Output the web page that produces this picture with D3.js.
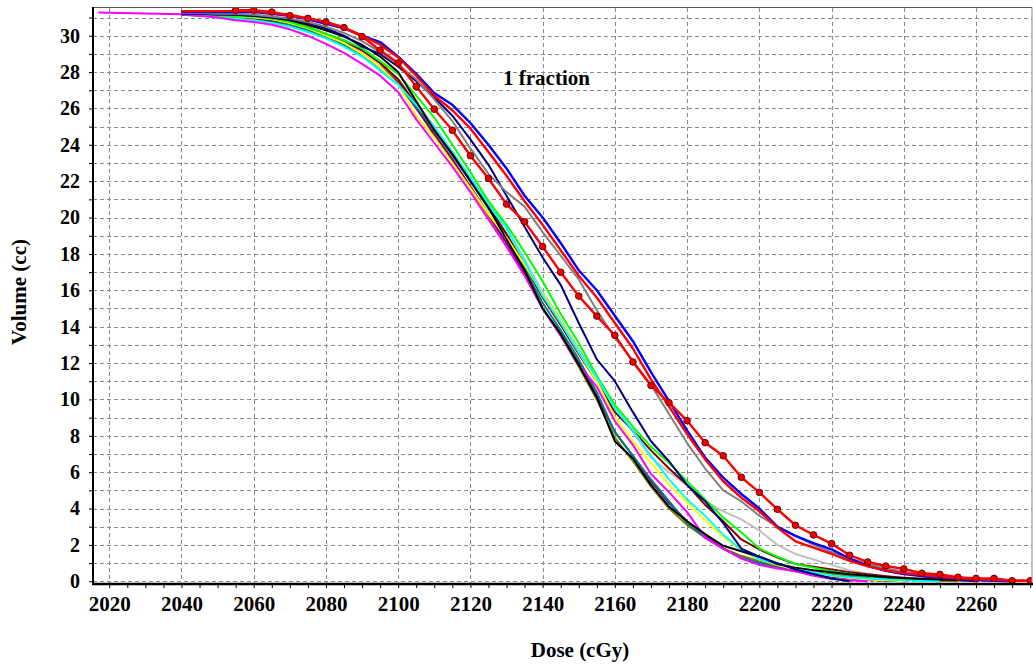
<!DOCTYPE html>
<html>
<head>
<meta charset="utf-8">
<script src="https://cdn.jsdelivr.net/npm/d3@7"></script>
<style>
  body { margin: 0; background: #fff; }
  svg text { font-family: "Liberation Serif", "Times New Roman", serif; font-weight: bold; fill: #000; }
</style>
</head>
<body>
<svg id="chart" width="1033" height="666"></svg>
<script>
// Dose grid (cGy) shared by every DVH curve
const doses = [2017, 2030, 2040, 2045, 2050, 2055, 2060, 2065, 2070, 2075,
               2080, 2085, 2090, 2095, 2100, 2105, 2110, 2115, 2120, 2125,
               2130, 2135, 2140, 2145, 2150, 2155, 2160, 2165, 2170, 2175,
               2180, 2185, 2190, 2195, 2200, 2205, 2210, 2215, 2220, 2225,
               2230, 2235, 2240, 2245, 2250, 2255, 2260, 2265, 2270, 2275];

// Cumulative volume (cc) receiving at least each dose, one array per plan
const volBlue = [null, null, 31.3, 31.3, 31.3, 31.3, 31.3, 31.2, 31.1, 30.9,
  30.65, 30.4, 30.0, 29.65, 28.85, 27.9, 26.85, 26.2, 25.2, 24.0,
  22.7, 21.2, 20.0, 18.6, 17.1, 16.0, 14.6, 13.2, 11.5, 9.9,
  8.3, 6.8, 5.7, 4.8, 4.0, 3.0, 2.5, 2.1, 1.75, 1.25,
  0.85, 0.58, 0.4, 0.28, 0.2, 0.12, 0.07, 0.03, 0];
const volRed = [null, null, 31.35, 31.35, 31.35, 31.35, 31.35, 31.25, 31.15, 30.95,
  30.75, 30.45, 30.0, 29.5, 28.8, 27.8, 26.7, 25.9, 24.9, 23.6,
  22.3, 20.9, 19.6, 18.2, 16.8, 15.6, 14.2, 12.8, 11.1, 9.6,
  8.1, 6.7, 5.5, 4.6, 3.85, 2.95, 2.2, 1.85, 1.5, 1.12,
  0.82, 0.6, 0.45, 0.35, 0.25, 0.18, 0.12, 0.08, 0.04, 0.02];
const volRedDots = [null, null, null, null, null, 31.4, 31.4, 31.3, 31.1, 30.95,
  30.75, 30.45, 29.95, 29.2, 28.5, 27.2, 25.96, 24.8, 23.4, 22.15,
  20.74, 19.77, 18.4, 16.99, 15.68, 14.58, 13.52, 12.06, 10.77, 9.82,
  8.83, 7.62, 6.9, 5.72, 4.89, 3.96, 3.08, 2.55, 2.07, 1.43,
  1.06, 0.84, 0.68, 0.44, 0.38, 0.22, 0.16, 0.16, 0.03, 0.03];
const volGray = [null, null, 31.25, 31.25, 31.2, 31.2, 31.15, 31.05, 30.95, 30.75,
  30.5, 30.15, 29.7, 29.1, 28.4, 27.6, 26.5, 25.3, 23.8, 22.4,
  21.4, 20.6, 19.2, 17.9, 16.6, 14.9, 13.4, 12.1, 10.8, 9.2,
  7.6, 6.2, 5.0, 4.4, 3.6, 3.0, 2.5, 2.0, 1.6, 1.25,
  0.95, 0.72, 0.52, 0.38, 0.28, 0.18, 0.12, 0.06, 0];
const volNavy = [null, null, 31.2, 31.2, 31.15, 31.15, 31.1, 31.0, 30.9, 30.7,
  30.4, 30.0, 29.4, 29.0, 28.3, 27.5, 26.6, 25.6, 24.3, 22.9,
  21.2, 19.5, 17.8, 16.3, 14.2, 12.2, 11.0, 9.3, 7.7, 6.6,
  5.3, 4.4, 3.2, 1.8, 1.35, 1.0, 0.65, 0.4, 0.15, 0];
const volSilver = [null, null, 31.2, 31.15, 31.1, 31.05, 31.0, 30.9, 30.7, 30.4,
  30.05, 29.7, 29.2, 28.5, 27.6, 26.3, 25.0, 23.6, 22.2, 20.8,
  19.4, 17.7, 15.9, 14.4, 12.8, 11.3, 9.6, 8.2, 6.8, 6.0,
  5.3, 4.4, 3.85, 3.4, 2.8, 2.0, 1.5, 1.2, 0.9, 0.6,
  0.42, 0.28, 0.18, 0.12, 0.08, 0.04, 0];
const volGreen = [null, null, 31.2, 31.15, 31.1, 31.05, 31.05, 30.95, 30.75, 30.45,
  30.1, 29.75, 29.3, 28.6, 27.9, 26.7, 25.5, 24.0, 22.5, 20.9,
  19.6, 18.1, 16.5, 14.7, 13.1, 11.3, 9.7, 8.5, 7.4, 6.5,
  5.5, 4.5, 3.5, 2.7, 1.8, 1.35, 0.95, 0.75, 0.55, 0.4,
  0.28, 0.18, 0.1, 0.04, 0];
const volYellow = [null, null, 31.2, 31.15, 31.1, 31.05, 31.0, 30.9, 30.7, 30.4,
  30.0, 29.6, 29.0, 28.3, 27.3, 25.6, 24.4, 23.0, 21.6, 20.2,
  18.9, 17.4, 15.8, 14.3, 12.6, 11.0, 9.0, 7.7, 6.5, 5.3,
  4.35, 3.35, 2.45, 1.7, 1.2, 0.9, 0.65, 0.45, 0.3, 0.18,
  0.1, 0.05, 0];
const volCyan = [null, null, 31.2, 31.1, 31.0, 30.95, 30.85, 30.7, 30.5, 30.2,
  29.85, 29.4, 28.85, 28.1, 27.3, 26.2, 25.0, 23.6, 22.2, 20.7,
  19.4, 17.6, 15.7, 14.2, 12.6, 11.2, 9.5, 8.3, 6.9, 5.6,
  4.5, 3.6, 2.55, 1.75, 1.2, 0.95, 0.7, 0.48, 0.32, 0.22,
  0.15, 0.1, 0.06, 0.03, 0];
const volTeal = [null, null, 31.2, 31.15, 31.05, 31.0, 30.9, 30.75, 30.6, 30.3,
  29.9, 29.5, 28.9, 28.1, 27.3, 26.1, 24.8, 23.4, 22.0, 20.5,
  19.0, 17.2, 15.3, 13.8, 12.2, 10.4, 8.2, 6.9, 5.6, 4.4,
  3.2, 2.4, 1.8, 1.3, 1.0, 0.75, 0.55, 0.42, 0.32, 0.24,
  0.18, 0.12, 0.08, 0.04, 0];
const volMagenta = [31.28, 31.22, 31.18, 31.1, 31.0, 30.85, 30.75, 30.6, 30.35, 30.0,
  29.55, 29.05, 28.45, 27.8, 26.9, 25.4, 24.1, 22.8, 21.4, 19.9,
  18.4, 16.8, 15.0, 13.5, 11.9, 10.7, 8.8, 7.5, 5.9, 4.9,
  3.8, 2.4, 1.8, 1.25, 0.9, 0.7, 0.55, 0.3, 0.12, 0.05,
  0];
const volBlack = [null, null, 31.25, 31.2, 31.2, 31.15, 31.1, 31.0, 30.85, 30.6,
  30.3, 29.95, 29.5, 28.85, 28.0, 26.4, 24.8, 23.5, 22.0, 20.55,
  18.8, 17.1, 15.0, 13.6, 11.9, 10.1, 7.7, 6.75, 5.3, 4.1,
  3.3, 2.6, 1.95, 1.65, 1.35, 0.95, 0.75, 0.6, 0.5, 0.38,
  0.3, 0.22, 0.16, 0.13, 0.1, 0.08, 0.07, 0.05, 0];
const volOlive = [null, null, 31.2, 31.15, 31.15, 31.1, 31.05, 30.95, 30.8, 30.5,
  30.1, 29.75, 29.2, 28.5, 27.5, 26.1, 24.5, 23.1, 21.6, 20.1,
  18.5, 16.9, 15.0, 13.5, 11.8, 10.0, 7.9, 6.6, 5.2, 4.0,
  3.1, 2.4, 1.8, 1.4, 1.1, 0.85, 0.65, 0.5, 0.4, 0.3,
  0.22, 0.15, 0.1, 0.06, 0.03, 0];
const volMaroon = [null, null, 31.15, 31.1, 31.05, 31.0, 30.95, 30.85, 30.7, 30.4,
  30.05, 29.7, 29.2, 28.5, 27.6, 26.2, 24.9, 23.5, 22.1, 20.6,
  19.1, 17.4, 15.6, 14.1, 12.5, 11.0, 9.3, 8.3, 7.2, 6.2,
  5.3, 4.2, 3.3, 2.3, 1.75, 1.3, 0.95, 0.8, 0.65, 0.5,
  0.38, 0.28, 0.2, 0.14, 0.1, 0.05, 0];
const volPurple = [null, null, 31.2, 31.15, 31.1, 31.05, 31.0, 30.9, 30.7, 30.4,
  30.0, 29.6, 29.0, 28.3, 27.4, 26.0, 24.6, 23.2, 21.7, 20.2,
  18.6, 16.9, 15.0, 13.6, 12.0, 10.2, 8.2, 6.9, 5.5, 4.3,
  3.3, 2.5, 1.8, 1.3, 1.0, 0.75, 0.55, 0.38, 0.25, 0.15,
  0.08, 0.03, 0];

// Axis ticks
const xTicks = [2020, 2040, 2060, 2080, 2100, 2120, 2140, 2160, 2180, 2200, 2220, 2240, 2260];
const yTicks = [0, 2, 4, 6, 8, 10, 12, 14, 16, 18, 20, 22, 24, 26, 28, 30];

// Drawing order: later curves sit on top
const series = [
  { values: volSilver,  color: "#c0c0c0" },
  { values: volOlive,   color: "#808000" },
  { values: volPurple,  color: "#800080" },
  { values: volTeal,    color: "#008080" },
  { values: volMaroon,  color: "#800000" },
  { values: volYellow,  color: "#ffff00" },
  { values: volGreen,   color: "#00ff00" },
  { values: volCyan,    color: "#00ffff" },
  { values: volMagenta, color: "#ff00ff" },
  { values: volBlack,   color: "#000000" },
  { values: volNavy,    color: "#000080" },
  { values: volGray,    color: "#808080" },
  { values: volBlue,    color: "#0000ff" },
  { values: volRed,     color: "#ff0000" },
  { values: volRedDots, color: "#ff0000", dots: true }
];

const svg = d3.select("#chart");
const plotLeft = 93, plotRight = 1032, plotTop = 7.5, plotBottom = 584;
const x = d3.scaleLinear().domain([2015.5, 2275.5]).range([plotLeft, plotRight]);
const y = d3.scaleLinear().domain([-0.15, 31.55]).range([plotBottom, plotTop]);

svg.append("rect").attr("width", 1033).attr("height", 666).attr("fill", "#fff");

// dashed grid
const grid = svg.append("g").attr("stroke", "#8a8a8a").attr("stroke-width", 1)
  .attr("stroke-dasharray", "4,3").attr("shape-rendering", "crispEdges");
grid.selectAll("line.h").data(d3.range(0, 32)).join("line").attr("class", "h")
  .attr("x1", plotLeft).attr("x2", plotRight)
  .attr("y1", d => Math.round(y(d)) + 0.5).attr("y2", d => Math.round(y(d)) + 0.5);
grid.selectAll("line.v").data(xTicks).join("line").attr("class", "v")
  .attr("y1", plotTop).attr("y2", plotBottom)
  .attr("x1", d => Math.round(x(d)) + 0.5).attr("x2", d => Math.round(x(d)) + 0.5);

// curves
svg.append("clipPath").attr("id", "plotClip").append("rect")
  .attr("x", plotLeft).attr("y", plotTop)
  .attr("width", plotRight - plotLeft).attr("height", plotBottom - plotTop);
const plot = svg.append("g").attr("clip-path", "url(#plotClip)");
const line = d3.line()
  .defined(d => d.v != null)
  .x(d => x(d.d)).y(d => y(d.v));

series.forEach(s => {
  const pts = doses.map((d, i) => ({ d: d, v: s.values[i] }));
  plot.append("path").datum(pts)
    .attr("fill", "none").attr("stroke", s.color)
    .attr("stroke-width", s.color === "#ff0000" || s.color === "#0000ff" ? 2.4 : 2)
    .attr("stroke-linejoin", "round")
    .attr("d", line);
  if (s.dots) {
    plot.selectAll(null).data(pts.filter(p => p.v != null)).join("circle")
      .attr("cx", p => x(p.d)).attr("cy", p => y(p.v)).attr("r", 3.3)
      .attr("fill", "#ee0000").attr("stroke", "#6a0000").attr("stroke-width", 1);
  }
});

// frame
svg.append("line").attr("x1", plotLeft).attr("x2", plotRight).attr("y1", plotTop).attr("y2", plotTop)
  .attr("stroke", "#555").attr("stroke-width", 1.2);
svg.append("line").attr("x1", plotRight).attr("x2", plotRight).attr("y1", plotTop).attr("y2", plotBottom)
  .attr("stroke", "#888").attr("stroke-width", 1);

// y axis
const yAxis = d3.axisLeft(y).tickValues(d3.range(0, 32)).tickSize(4).tickPadding(9)
  .tickFormat(d => yTicks.includes(d) ? d : "");
const gy = svg.append("g").attr("transform", `translate(${plotLeft},0)`).call(yAxis);
gy.select(".domain").remove();
gy.selectAll("text").style("font-size", "20px");

// x axis
const xAxis = d3.axisBottom(x).tickValues(d3.range(2020, 2276, 5)).tickSize(4).tickPadding(8)
  .tickFormat(d => xTicks.includes(d) ? d : "");
const gx = svg.append("g").attr("transform", `translate(0,${plotBottom})`).call(xAxis);
gx.select(".domain").remove();
gx.selectAll("text").style("font-size", "21px");

svg.append("line").attr("x1", plotLeft).attr("x2", plotLeft).attr("y1", plotTop - 0.5).attr("y2", plotBottom + 1)
  .attr("stroke", "#000").attr("stroke-width", 2);
svg.append("line").attr("x1", plotLeft - 1).attr("x2", 1033).attr("y1", plotBottom).attr("y2", plotBottom)
  .attr("stroke", "#000").attr("stroke-width", 2.5);

// titles
svg.append("text").attr("transform", "translate(26,292) rotate(-90)")
  .attr("text-anchor", "middle").style("font-size", "21px").text("Volume (cc)");
svg.append("text").attr("x", 580).attr("y", 657)
  .attr("text-anchor", "middle").style("font-size", "21px").text("Dose (cGy)");
svg.append("text").attr("x", 503).attr("y", 85)
  .style("font-size", "21px").text("1 fraction");
</script>
</body>
</html>
